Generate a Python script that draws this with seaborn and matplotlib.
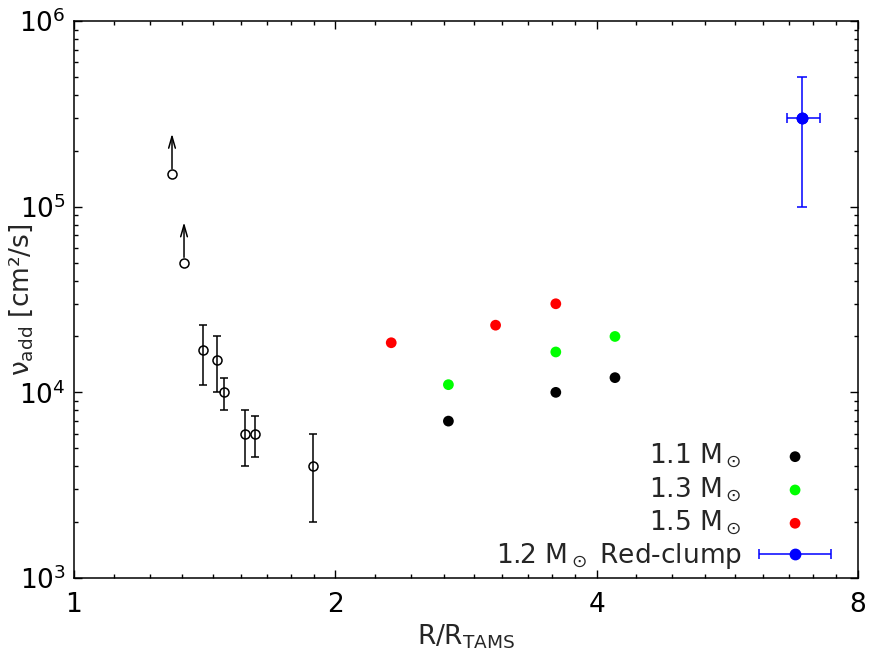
import numpy as np
import pandas as pd
import matplotlib
matplotlib.use("Agg")
import matplotlib.pyplot as plt
import seaborn as sns
from matplotlib.ticker import FixedLocator, FixedFormatter, NullFormatter, LogLocator
from matplotlib.container import ErrorbarContainer
from matplotlib.legend_handler import HandlerErrorbar

# --- data ---
# lower limits (open circles with arrows)
lim_x = [1.297, 1.339]
lim_y = [1.5e5, 5.0e4]

# observed points with asymmetric error bars
obs_x = [1.407, 1.461, 1.489, 1.574, 1.616, 1.885]
obs_y = [1.7e4, 1.5e4, 1.0e4, 6.0e3, 6.0e3, 4.0e3]
obs_hi = [2.3e4, 2.0e4, 1.2e4, 8.0e3, 7.5e3, 6.0e3]
obs_lo = [1.1e4, 1.0e4, 8.0e3, 4.0e3, 4.5e3, 2.0e3]

# model points
m11_x = [2.70, 3.59, 4.20]
m11_y = [7.0e3, 1.0e4, 1.2e4]
m13_x = [2.70, 3.59, 4.20]
m13_y = [1.1e4, 1.65e4, 2.0e4]
m15_x = [2.32, 3.06, 3.59]
m15_y = [1.85e4, 2.3e4, 3.0e4]

# red clump
rc_x, rc_xlo, rc_xhi = 6.9, 6.62, 7.23
rc_y, rc_ylo, rc_yhi = 3.0e5, 1.0e5, 5.0e5

labels = ["1.1 M$_\\odot$", "1.3 M$_\\odot$", "1.5 M$_\\odot$"]
colors = ["#000000", "#00ff00", "#ff0000"]
rc_label = "1.2 M$_\\odot$ Red-clump"

x_major = [1, 2, 4, 8]

FS = 19

sns.set_theme(style="ticks")
plt.rcParams["font.family"] = ["DejaVu Sans"]
plt.rcParams["mathtext.fontset"] = "dejavusans"

fig = plt.figure(figsize=(8.89, 6.67), dpi=100)
ax = fig.add_axes([0.0832, 0.1334, 0.965 - 0.0832, 0.9685 - 0.1334])

# lower limits
ax.plot(lim_x, lim_y, "o", mfc="none", mec="black", ms=6.5, mew=1.1, ls="none")
for x, y in zip(lim_x, lim_y):
    ax.annotate("", xy=(x, y), xytext=(0, 29), textcoords="offset points",
                arrowprops=dict(arrowstyle="<-, head_length=0.7, head_width=0.2",
                                color="black", lw=1.1, shrinkA=0, shrinkB=3.8))

# observations with error bars
obs_y_arr = np.array(obs_y)
yerr = [obs_y_arr - np.array(obs_lo), np.array(obs_hi) - obs_y_arr]
ax.errorbar(obs_x, obs_y, yerr=yerr, fmt="o", mfc="none", mec="black",
            ms=6.5, mew=1.1, ecolor="black", elinewidth=1.1, capsize=3, capthick=1.1)

# model points
models = pd.DataFrame({
    "x": m11_x + m13_x + m15_x,
    "y": m11_y + m13_y + m15_y,
    "mass": [labels[0]] * 3 + [labels[1]] * 3 + [labels[2]] * 3,
})
for lab, col in zip(labels, colors):
    sub = models[models["mass"] == lab]
    sns.scatterplot(data=sub, x="x", y="y", color=col, s=60, edgecolor="none",
                    label=lab, ax=ax)

# red clump: vertical bar without label, horizontal bar with label
ax.errorbar([rc_x], [rc_y], yerr=[[rc_y - rc_ylo], [rc_yhi - rc_y]], fmt="o",
            color="blue", ms=7.5, elinewidth=1.1, capsize=3.6, capthick=1.1)
ax.errorbar([rc_x], [rc_y], xerr=[[rc_x - rc_xlo], [rc_xhi - rc_x]], fmt="o",
            color="blue", ms=7.5, elinewidth=1.1, capsize=3.6, capthick=1.1,
            label=rc_label)

ax.set_xscale("log", base=2)
ax.set_yscale("log")
ax.set_xlim(1, 8)
ax.set_ylim(1e3, 1e6)

ax.xaxis.set_major_locator(FixedLocator(x_major))
ax.xaxis.set_major_formatter(FixedFormatter([str(v) for v in x_major]))
x_minor = []
for a, b in zip(x_major[:-1], x_major[1:]):
    x_minor += [a + k * (b - a) / 9 for k in range(1, 9)]
ax.xaxis.set_minor_locator(FixedLocator(x_minor))
ax.xaxis.set_minor_formatter(NullFormatter())
ax.yaxis.set_minor_locator(LogLocator(base=10, subs=np.arange(2, 10)))
ax.yaxis.set_minor_formatter(NullFormatter())

ax.tick_params(which="both", direction="in", top=True, right=True,
               labelsize=FS, width=1, colors="black")
ax.tick_params(which="major", length=6, pad=6)
ax.tick_params(axis="x", which="major", pad=10)
ax.tick_params(which="minor", length=3)
for sp in ax.spines.values():
    sp.set_visible(True)
    sp.set_linewidth(1.1)
    sp.set_color("black")

ax.set_xlabel("R/R$_{\\rm TAMS}$", fontsize=FS)
ax.set_ylabel("ν$_{\\rm add}$ [cm²/s]", fontsize=FS)
ax.xaxis.set_label_coords(0.5, -0.08)
ax.yaxis.set_label_coords(-0.05, 0.5)

handles, labs = ax.get_legend_handles_labels()
ax.legend(handles, labs, loc="lower right", bbox_to_anchor=(0.967, 0.012),
          markerfirst=False, frameon=False, borderpad=0, borderaxespad=0,
          fontsize=FS, handlelength=2.8, handletextpad=0.62, labelspacing=0.17,
          handler_map={ErrorbarContainer: HandlerErrorbar(xerr_size=1.38)})

fig.savefig("out.png", dpi=100)
